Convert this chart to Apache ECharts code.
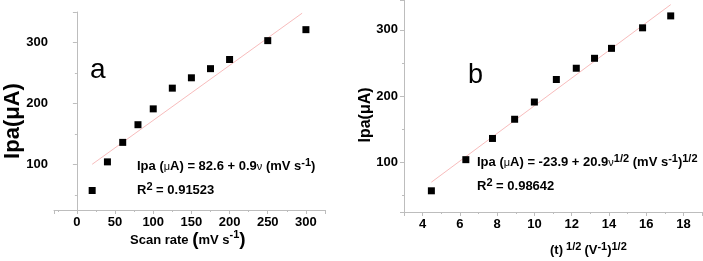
<!DOCTYPE html>
<html>
<head>
<meta charset="utf-8">
<script src="https://cdn.jsdelivr.net/npm/echarts@6/dist/echarts.min.js"></script>
<style>
  html, body { margin: 0; padding: 0; background: #fff; }
  #main { width: 703px; height: 261px; }
</style>
</head>
<body>
<div id="main"></div>
<script>
// values
var scanRate = [20, 40, 60, 80, 100, 125, 150, 175, 200, 250, 300];
var sqrtRate = [4.47, 6.32, 7.75, 8.94, 10, 11.18, 12.25, 13.23, 14.14, 15.81, 17.32];
var ipa = [57, 104, 136, 165, 191, 225, 242, 257, 272, 303, 321];
// fitted lines, end points as drawn
var fitA = [[20, 100], [295, 348]];
var fitB = [[4.47, 70], [17.32, 338]];

var FONT = 'Liberation Sans, Arial, sans-serif';
var AXIS_GRAY = '#bdbdbd';

var ptsA = [], ptsB = [];
for (var i = 0; i < ipa.length; i++) {
    ptsA.push([scanRate[i], ipa[i]]);
    ptsB.push([sqrtRate[i], ipa[i]]);
}

function valueAxis(gridIndex, min, max, split, step) {
    return {
        type: 'value',
        gridIndex: gridIndex,
        min: min,
        max: max,
        splitNumber: split,
        minInterval: step,
        maxInterval: step,
        splitLine: { show: false },
        axisLine: { show: true, lineStyle: { color: AXIS_GRAY, width: 1 } },
        axisTick: { show: true, inside: false, length: 4, lineStyle: { color: AXIS_GRAY } },
        minorTick: { show: true, splitNumber: 2, length: 2, lineStyle: { color: AXIS_GRAY } },
        axisLabel: {
            color: '#000', fontFamily: FONT, fontWeight: 'bold', fontSize: 13,
            margin: 6, showMinLabel: false, showMaxLabel: false
        }
    };
}

var chart = echarts.init(document.getElementById('main'));

var textRich = {
    b: { fontFamily: FONT, fontWeight: 'bold', fontSize: 13, color: '#000', lineHeight: 19 },
    n: { fontFamily: FONT, fontWeight: 'normal', fontSize: 11, color: '#000', lineHeight: 19 },
    sup: { fontFamily: FONT, fontWeight: 'bold', fontSize: 11, color: '#000', lineHeight: 19, verticalAlign: 'top' },
    big: { fontFamily: FONT, fontWeight: 'bold', fontSize: 19, color: '#000', lineHeight: 22 }
};

var option = {
    animation: false,
    backgroundColor: '#fff',
    grid: [
        { left: 54, top: 12, width: 271, height: 198 },
        { left: 404, top: 0, width: 298, height: 212 }
    ],
    xAxis: [
        valueAxis(0, -30, 325, 7, 50),
        valueAxis(1, 3, 19, 8, 2)
    ],
    yAxis: [
        valueAxis(0, 25, 350, 3, 100),
        valueAxis(1, 25, 345, 3, 100)
    ],
    series: [
        {
            type: 'line', xAxisIndex: 0, yAxisIndex: 0, data: fitA,
            symbol: 'none', lineStyle: { color: '#f8bcbc', width: 1 }, z: 1
        },
        {
            type: 'scatter', xAxisIndex: 0, yAxisIndex: 0, data: ptsA,
            symbol: 'rect', symbolSize: 7, itemStyle: { color: '#000', opacity: 1 }, z: 2
        },
        {
            type: 'line', xAxisIndex: 1, yAxisIndex: 1, data: fitB,
            symbol: 'none', lineStyle: { color: '#f8bcbc', width: 1 }, z: 1
        },
        {
            type: 'scatter', xAxisIndex: 1, yAxisIndex: 1, data: ptsB,
            symbol: 'rect', symbolSize: 7, itemStyle: { color: '#000', opacity: 1 }, z: 2
        }
    ],
    graphic: [
        // panel letters
        { type: 'text', left: 90, top: 56, style: { text: 'a', font: 'normal 28px ' + FONT, fill: '#000' } },
        { type: 'text', left: 468, top: 62, style: { text: 'b', font: 'normal 27px ' + FONT, fill: '#000' } },
        // y axis titles
        {
            type: 'text', x: 13, y: 121, rotation: Math.PI / 2,
            style: { text: 'Ipa(μA)', font: 'bold 22px ' + FONT, fill: '#000', align: 'center', verticalAlign: 'middle' }
        },
        {
            type: 'text', x: 366, y: 115, rotation: Math.PI / 2,
            style: { text: 'Ipa(μA)', font: 'bold 16px ' + FONT, fill: '#000', align: 'center', verticalAlign: 'middle' }
        },
        // x axis titles
        {
            type: 'text', left: 130, top: 229,
            style: { text: '{b|Scan rate }{big|(}{b|mV s}{sup|-1}{big|)}', rich: textRich }
        },
        {
            type: 'text', left: 550, top: 241,
            style: { text: '{b|(t)}{sup| 1/2 }{b|(V}{sup|-1}{b|)}{sup|1/2}', rich: textRich }
        },
        // fit equations
        {
            type: 'text', left: 137, top: 157,
            style: { text: '{b|Ipa (}{n|μ}{b|A) = 82.6 + 0.9}{n|ν}{b| (mV s}{sup|-1}{b|)}', rich: textRich }
        },
        {
            type: 'text', left: 137, top: 181,
            style: { text: '{b|R}{sup|2}{b| = 0.91523}', rich: textRich }
        },
        {
            type: 'text', left: 477, top: 153,
            style: { text: '{b|Ipa (}{n|μ}{b|A) = -23.9 + 20.9}{n|ν}{sup|1/2}{b| (mV s}{sup|-1}{b|)}{sup|1/2}', rich: textRich }
        },
        {
            type: 'text', left: 477, top: 177,
            style: { text: '{b|R}{sup|2}{b| = 0.98642}', rich: textRich }
        }
    ]
};

chart.setOption(option);
</script>
</body>
</html>
